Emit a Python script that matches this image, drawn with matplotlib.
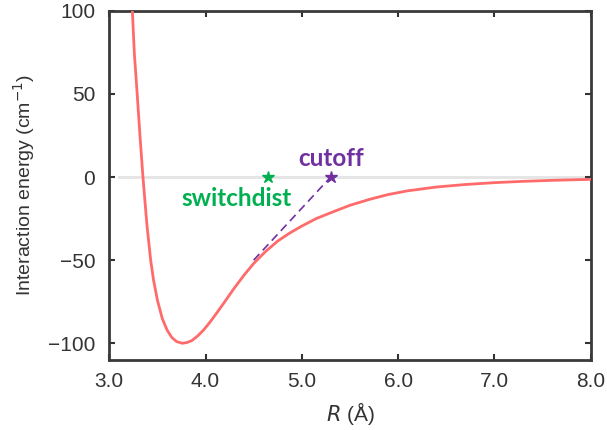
import matplotlib
matplotlib.use("Agg")
import matplotlib.pyplot as plt
import numpy as np

# curve: R (Angstrom) and interaction energy (cm^-1)
r_vals = [3.24, 3.26, 3.29, 3.32, 3.35, 3.39, 3.43, 3.46, 3.50, 3.55, 3.60, 3.65,
          3.70, 3.76, 3.81, 3.86, 3.92, 3.98, 4.05, 4.12, 4.20, 4.29, 4.40,
          4.50, 4.62, 4.75, 4.88, 5.00, 5.15, 5.30, 5.50, 5.70, 5.90, 6.10, 6.40,
          6.70, 7.00, 7.30, 7.60, 8.00]
e_vals = [100, 75, 50, 24, 0, -28, -50, -62, -74, -85, -92, -96.5,
          -99, -100, -99.5, -98.3, -95.5, -92, -87, -81.5, -75, -67.5, -59,
          -52, -45, -38.5, -33.5, -29.5, -25, -21.5, -17, -13.5, -10.5, -8.3, -6,
          -4.5, -3.4, -2.6, -2, -1.4]

xticks = [3.0, 4.0, 5.0, 6.0, 7.0, 8.0]
yticks = [-100, -50, 0, 50, 100]

switchdist = 4.65
cutoff = 5.30
dash_start = (4.50, -50)

plt.rcParams['font.family'] = ['Liberation Sans', 'DejaVu Sans']

fig = plt.figure(figsize=(6.07, 4.30), dpi=100)
ax = fig.add_axes([0.180, 0.163, 0.793, 0.812])

ax.axhline(0, xmin=0.02, xmax=1, color='#e4e4e4', lw=2, zorder=1)
ax.plot(r_vals, e_vals, color='#ff6b6b', lw=2, zorder=3)

ax.plot([dash_start[0], cutoff], [dash_start[1], 0], color='#7030a0',
        lw=1.2, ls=(0, (5, 3)), zorder=4)
ax.plot([switchdist], [0], marker='*', color='#00b050', ms=9, ls='none', zorder=5)
ax.plot([cutoff], [0], marker='*', color='#7030a0', ms=9, ls='none', zorder=5)

ax.text(cutoff, 4, 'cutoff', color='#7030a0', fontsize=17.5, fontweight='bold',
        family=['Lato', 'DejaVu Sans'], ha='center', va='bottom')
ax.text(4.32, -6, 'switchdist', color='#00b050', fontsize=17.5, fontweight='bold',
        family=['Lato', 'DejaVu Sans'], ha='center', va='top')

ax.set_xlim(3.0, 8.0)
ax.set_ylim(-110, 100)
ax.set_xticks(xticks)
ax.set_xticklabels(['%.1f' % v for v in xticks])
ax.set_yticks(yticks)
ax.set_yticklabels(['\u2212100' if v == -100 else ('\u221250' if v == -50 else str(v)) for v in yticks])

ax.tick_params(direction='in', length=4, width=1.5, color='#333333',
               labelsize=15, labelcolor='#333333', top=True, right=True)
ax.tick_params(axis='y', pad=10)
ax.tick_params(axis='x', pad=9)
for s in ax.spines.values():
    s.set_linewidth(2)
    s.set_color('#3a3a3a')

ax.set_xlabel('$R$ (\u00c5)', fontsize=15, color='#333333', labelpad=6)
ax.set_ylabel('Interaction energy (cm$^{-1}$)', fontsize=14, color='#333333', labelpad=8)

fig.savefig('out.png', dpi=100)
